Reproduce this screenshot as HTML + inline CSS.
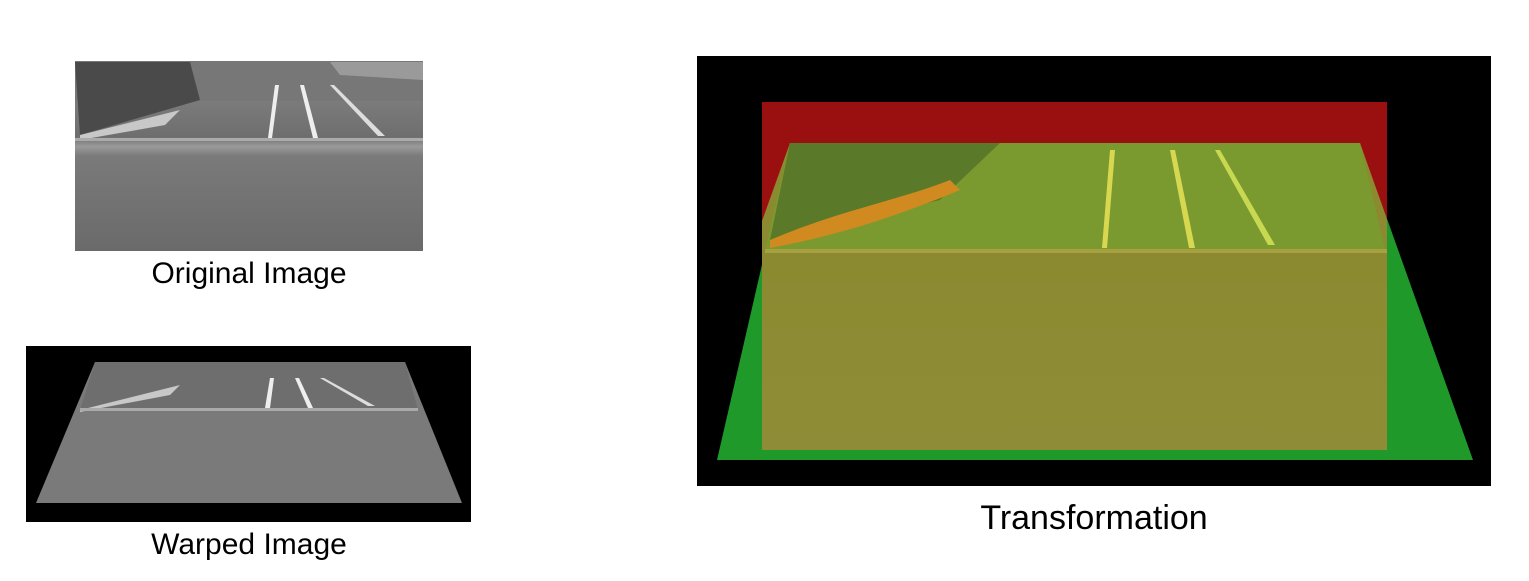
<!DOCTYPE html>
<html><head><meta charset="utf-8"><style>
html,body{margin:0;padding:0;background:#fff;}
svg{display:block;}
text{font-family:"Liberation Sans",Arial,sans-serif;fill:#000;}
</style></head><body>
<svg width="1529" height="581" viewBox="0 0 1529 581" xmlns="http://www.w3.org/2000/svg">
<defs>
<linearGradient id="og" x1="0" y1="0" x2="0" y2="1">
<stop offset="0" stop-color="#8a8a8a"/><stop offset="0.4" stop-color="#6e6e6e"/><stop offset="0.45" stop-color="#9a9a9a"/><stop offset="0.5" stop-color="#7a7a7a"/><stop offset="1" stop-color="#6a6a6a"/>
</linearGradient>
<linearGradient id="ov" x1="0" y1="0" x2="0" y2="1">
<stop offset="0" stop-color="#8a8a2e"/><stop offset="0.3" stop-color="#8c8a30"/><stop offset="1" stop-color="#8e8c36"/>
</linearGradient>
</defs>
<!-- Original image -->
<g>
<rect x="75" y="61" width="348" height="190" fill="url(#og)"/>
<rect x="75" y="61" width="348" height="40" fill="#777"/>
<path d="M75 62 L190 62 L200 100 L80 135 Z" fill="#4a4a4a"/>
<path d="M330 62 L423 62 L423 80 L340 75 Z" fill="#9a9a9a"/>
<path d="M80 135 L180 110 L165 125 L80 140Z" fill="#c8c8c8"/>
<path d="M268 138 L275 85 L279 85 L272 138Z" fill="#eee"/>
<path d="M300 85 L304 85 L318 138 L313 138Z" fill="#eee"/>
<path d="M330 85 L334 85 L385 136 L378 136Z" fill="#ddd"/>
<rect x="75" y="138" width="348" height="3" fill="#aaa"/>
</g>
<text x="249" y="283" font-size="30" text-anchor="middle">Original Image</text>
<!-- Warped image -->
<g>
<rect x="26" y="346" width="445" height="176" fill="#000"/>
<path d="M95 362 L405 362 L462 503 L36 503 Z" fill="#7a7a7a"/>
<path d="M95 362 L405 362 L418 410 L80 410 Z" fill="#6e6e6e"/>
<path d="M80 410 L180 385 L170 395 L80 412 Z" fill="#c8c8c8"/>
<path d="M265 408 L270 378 L274 378 L270 408Z" fill="#eee"/>
<path d="M295 378 L299 378 L313 408 L308 408Z" fill="#eee"/>
<path d="M320 378 L324 378 L375 406 L368 406Z" fill="#ddd"/>
<rect x="80" y="408" width="338" height="3" fill="#aaa"/>
</g>
<text x="249" y="554" font-size="30" text-anchor="middle">Warped Image</text>
<!-- Transformation -->
<g>
<rect x="697" y="56" width="794" height="430" fill="#000"/>
<path d="M790 143 L1360 143 L1473 460 L717 460 Z" fill="#1f9a2a"/>
<rect x="762" y="102" width="625" height="348" fill="#9a1010"/>
<path d="M790 143 L1360 143 L1387 219 L1387 450 L762 450 L762 221 Z" fill="url(#ov)"/>
<path d="M790 143 L1360 143 L1385 250 L765 250 Z" fill="#7a9a30"/>
<path d="M790 143 L1000 143 L940 200 L770 240 Z" fill="#5a7a2a"/>
<path d="M770 240 C840 210 900 200 950 180 L960 190 C900 215 840 235 770 248Z" fill="#d08a20"/>
<path d="M1110 150 L1115 150 L1107 248 L1102 248Z" fill="#d8d850"/>
<path d="M1170 150 L1175 150 L1195 248 L1189 248Z" fill="#d8d850"/>
<path d="M1215 150 L1220 150 L1275 245 L1268 245Z" fill="#c8d850"/>
<rect x="765" y="249" width="622" height="4" fill="#a8a040"/>
</g>
<text x="1094" y="529" font-size="34" text-anchor="middle">Transformation</text>
</svg>
</body></html>
